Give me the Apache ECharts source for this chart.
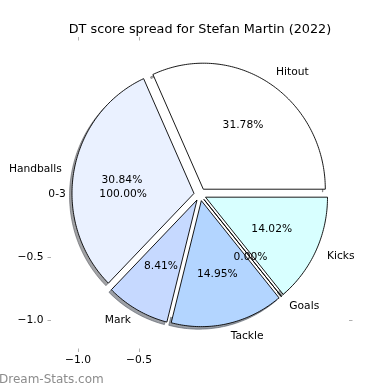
<!DOCTYPE html>
<html><head><meta charset="utf-8">
<script src="https://cdn.jsdelivr.net/npm/echarts@6/dist/echarts.min.js"></script>
<style>html,body{margin:0;padding:0;background:#fff}#c{width:390px;height:390px}</style>
</head><body><div id="c"></div>
<script>
// ---- data ----
const chartTitle = 'DT score spread for Stefan Martin (2022)';
const categories = ['Hitout', 'Handballs', 'Mark', 'Tackle', 'Goals', 'Kicks'];
const values = [34, 33, 9, 16, 0, 15];
const sliceColors = ['#ffffff', '#eaf1ff', '#c6d9ff', '#b3d5ff', '#e6ecff', '#d8ffff'];
const innerCategories = ['0-3'];
const innerValues = [107];
const xTickValues = [-1.0, -0.5];
const yTickValues = [-1.0, -0.5];
const rightTickValues = [-1.0];
const watermark = 'Dream-Stats.com';

// ---- style constants ----
const EXPLODE = 0.05, R = 1, LABEL_DIST = 1.1, PCT_DIST = 0.6, INNER_PCT_DIST = 0.63;
const SHADOW_OFF = -0.02;
const FONT = '10.7px "DejaVu Sans"';

const total = values.reduce((a, b) => a + b, 0);
function sliceAngles(i) {
  let s = 0; for (let k = 0; k < i; k++) s += values[k];
  return [s / total * 360, (s + values[i]) / total * 360];
}
function hexToRgb(h) { const n = parseInt(h.slice(1), 16); return [(n >> 16) & 255, (n >> 8) & 255, n & 255]; }
function wedgePts(api, cx, cy, r, a1, a2) {
  const pts = [api.coord([cx, cy])];
  const n = Math.max(1, Math.ceil(Math.abs(a2 - a1)));
  for (let j = 0; j <= n; j++) {
    const t = (a1 + (a2 - a1) * j / n) * Math.PI / 180;
    pts.push(api.coord([cx + r * Math.cos(t), cy + r * Math.sin(t)]));
  }
  return pts;
}
function sliceCenter(i) {
  const [a1, a2] = sliceAngles(i);
  const m = (a1 + a2) / 2 * Math.PI / 180;
  return [EXPLODE * Math.cos(m), EXPLODE * Math.sin(m), m, a1, a2];
}
const fmt = v => (v < 0 ? '\u2212' : '') + Math.abs(v).toFixed(1);
const sliceData = categories.map((c, i) => [0, 0, i]);

const chart = echarts.init(document.getElementById('c'), null, { renderer: 'canvas' });
const tickStyle = { color: '#b0b0b0', width: 1 };
const hiddenLine = { show: false, onZero: false };
chart.setOption({
  animation: false,
  backgroundColor: '#fff',
  grid: { left: 47.5, top: 37, width: 305, height: 315, containLabel: false },
  xAxis: [
    { type: 'value', min: -1.25, max: 1.25, position: 'bottom',
      axisLine: hiddenLine, splitLine: { show: false },
      axisTick: { show: true, inside: true, length: 3.5, lineStyle: tickStyle, customValues: xTickValues },
      axisLabel: { customValues: xTickValues, formatter: fmt, color: '#000', fontSize: 10.7, fontFamily: 'DejaVu Sans', margin: 3 } },
    { type: 'value', min: -1.25, max: 1.25, position: 'top',
      axisLine: hiddenLine, splitLine: { show: false },
      axisTick: { show: true, inside: true, length: 3.5, lineStyle: tickStyle, customValues: xTickValues },
      axisLabel: { show: false } }
  ],
  yAxis: [
    { type: 'value', min: -1.25, max: 1.25, position: 'left',
      axisLine: hiddenLine, splitLine: { show: false },
      axisTick: { show: true, inside: true, length: 3.5, lineStyle: tickStyle, customValues: yTickValues },
      axisLabel: { customValues: yTickValues, formatter: fmt, color: '#000', fontSize: 10.7, fontFamily: 'DejaVu Sans', margin: 4 } },
    { type: 'value', min: -1.25, max: 1.25, position: 'right',
      axisLine: hiddenLine, splitLine: { show: false },
      axisTick: { show: true, inside: true, length: 3.5, lineStyle: tickStyle, customValues: rightTickValues },
      axisLabel: { show: false } }
  ],
  graphic: [
    { type: 'text', x: 200, y: 30, style: { text: chartTitle, align: 'center', verticalAlign: 'middle', fill: '#000', font: '12.8px "DejaVu Sans"' } },
    { type: 'text', x: -1, y: 380, style: { text: watermark, align: 'left', verticalAlign: 'middle', fill: '#8c8c8c', font: '12px "DejaVu Sans"' } }
  ],
  series: [
    { // shadows
      type: 'custom', coordinateSystem: 'cartesian2d', clip: false, z: 1, silent: true,
      data: sliceData, encode: { x: 0, y: 1 },
      renderItem: (params, api) => {
        const i = api.value(2);
        const [cx, cy, m, a1, a2] = sliceCenter(i);
        const rgb = hexToRgb(sliceColors[i]).map(v => Math.round(v * 0.3));
        const col = `rgba(${rgb[0]},${rgb[1]},${rgb[2]},0.5)`;
        return { type: 'polygon', shape: { points: wedgePts(api, cx + SHADOW_OFF, cy + SHADOW_OFF, R, a1, a2) },
          style: { fill: col, stroke: col, lineWidth: 1 } };
      }
    },
    { // inner single-slice pie (white, no edge)
      type: 'custom', coordinateSystem: 'cartesian2d', clip: false, z: 2, silent: true,
      data: innerCategories.map((c, i) => [0, 0, i]), encode: { x: 0, y: 1 },
      renderItem: (params, api) => {
        const tot = innerValues.reduce((a, b) => a + b, 0);
        const i = api.value(2);
        let s = 0; for (let k = 0; k < i; k++) s += innerValues[k];
        const a1 = s / tot * 360, a2 = (s + innerValues[i]) / tot * 360;
        return { type: 'polygon', shape: { points: wedgePts(api, 0, 0, R, a1, a2) }, style: { fill: '#fff', stroke: null } };
      }
    },
    { // wedges
      type: 'custom', coordinateSystem: 'cartesian2d', clip: false, z: 3, silent: true,
      data: sliceData, encode: { x: 0, y: 1 },
      renderItem: (params, api) => {
        const i = api.value(2);
        const [cx, cy, m, a1, a2] = sliceCenter(i);
        return { type: 'polygon', shape: { points: wedgePts(api, cx, cy, R, a1, a2) },
          style: { fill: sliceColors[i], stroke: '#000', lineWidth: 0.9, lineJoin: 'miter' } };
      }
    },
    { // labels
      type: 'custom', coordinateSystem: 'cartesian2d', clip: false, z: 4, silent: true,
      data: sliceData, encode: { x: 0, y: 1 },
      renderItem: (params, api) => {
        const i = api.value(2);
        const [cx, cy, m] = sliceCenter(i);
        const lx = cx + LABEL_DIST * R * Math.cos(m), ly = cy + LABEL_DIST * R * Math.sin(m);
        const lp = api.coord([lx, ly]);
        const px = api.coord([cx + PCT_DIST * R * Math.cos(m), cy + PCT_DIST * R * Math.sin(m)]);
        const pct = (values[i] / total * 100).toFixed(2) + '%';
        return { type: 'group', children: [
          { type: 'text', x: lp[0], y: lp[1], style: { text: categories[i], align: lx > 0 ? 'left' : 'right', verticalAlign: 'middle', fill: '#000', font: FONT } },
          { type: 'text', x: px[0], y: px[1], style: { text: pct, align: 'center', verticalAlign: 'middle', fill: '#000', font: FONT } }
        ] };
      }
    },
    { // inner pie labels
      type: 'custom', coordinateSystem: 'cartesian2d', clip: false, z: 4, silent: true,
      data: innerCategories.map((c, i) => [0, 0, i]), encode: { x: 0, y: 1 },
      renderItem: (params, api) => {
        const tot = innerValues.reduce((a, b) => a + b, 0);
        const i = api.value(2);
        let s = 0; for (let k = 0; k < i; k++) s += innerValues[k];
        const m = (s + innerValues[i] / 2) / tot * 2 * Math.PI;
        const lx = LABEL_DIST * R * Math.cos(m), ly = LABEL_DIST * R * Math.sin(m);
        const lp = api.coord([lx, ly]);
        const px = api.coord([INNER_PCT_DIST * R * Math.cos(m), INNER_PCT_DIST * R * Math.sin(m)]);
        const pct = (innerValues[i] / tot * 100).toFixed(2) + '%';
        return { type: 'group', children: [
          { type: 'text', x: lp[0], y: lp[1], style: { text: innerCategories[i], align: lx > 0 ? 'left' : 'right', verticalAlign: 'middle', fill: '#000', font: FONT } },
          { type: 'text', x: px[0], y: px[1], style: { text: pct, align: 'center', verticalAlign: 'middle', fill: '#000', font: FONT } }
        ] };
      }
    }
  ]
});
</script></body></html>
